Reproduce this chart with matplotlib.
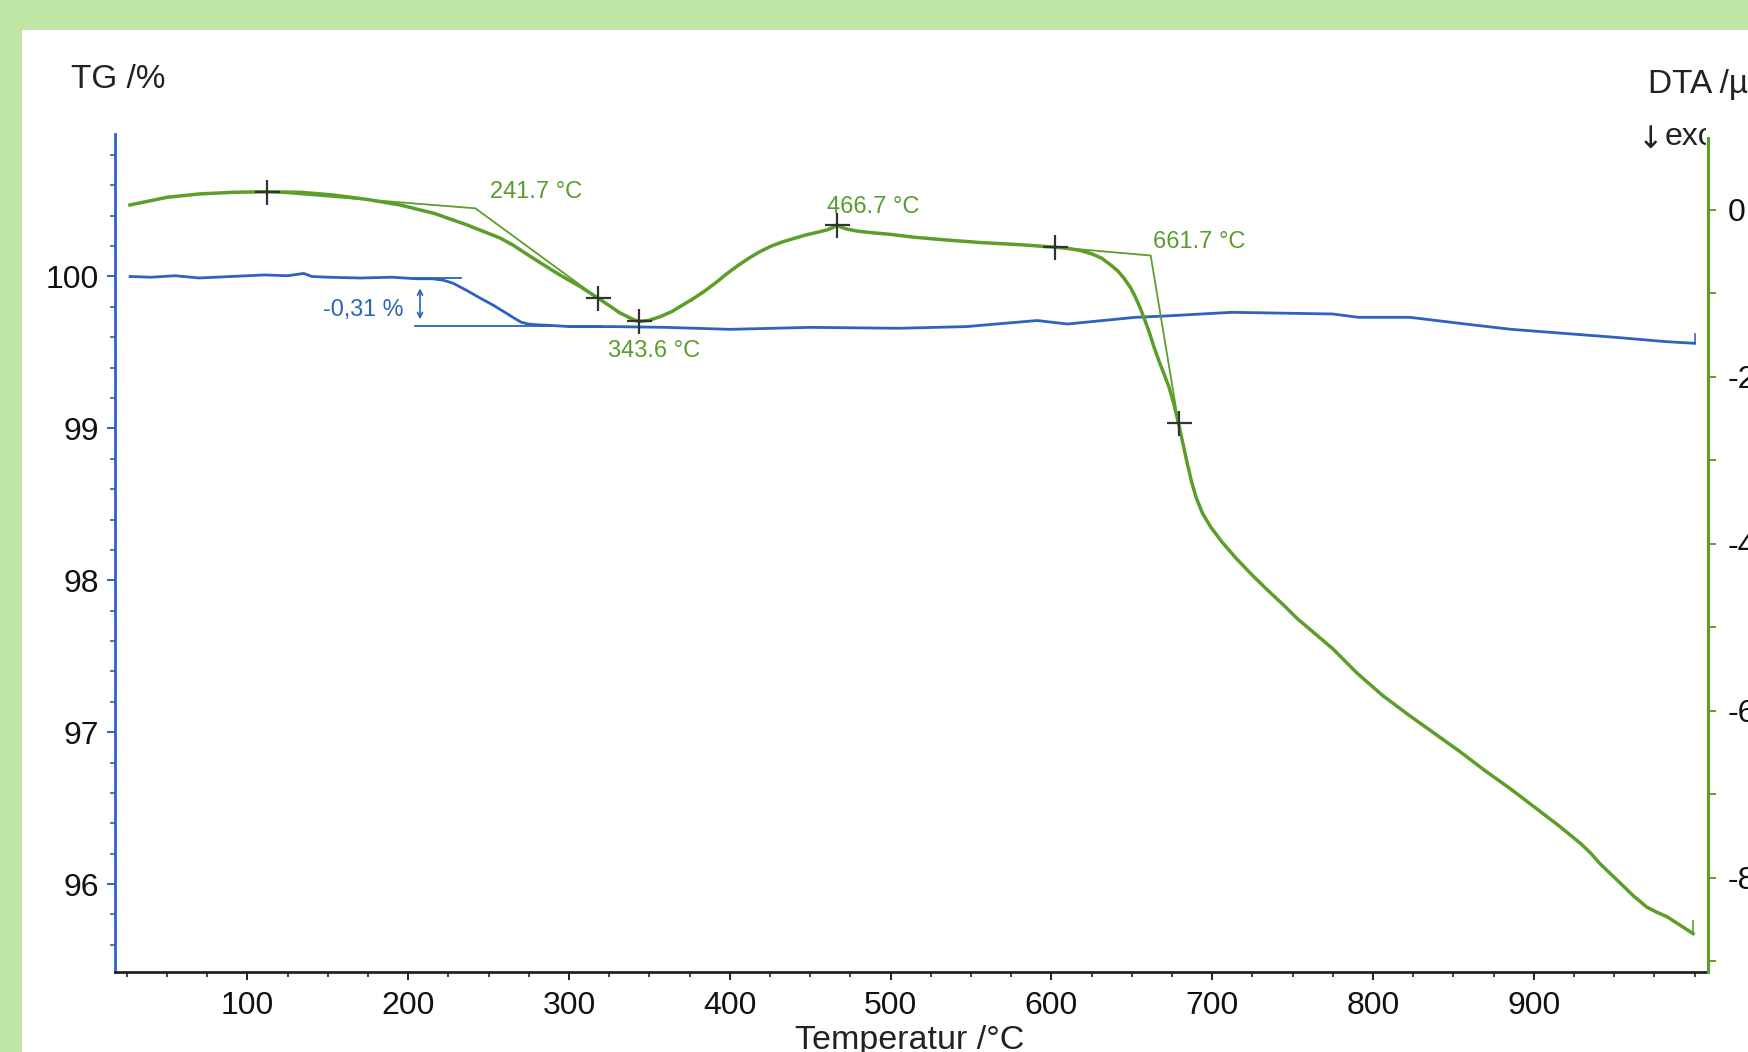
import numpy as np
import matplotlib
matplotlib.use("Agg")
import matplotlib.pyplot as plt
from matplotlib.ticker import MultipleLocator, FixedLocator
from matplotlib.patches import Rectangle
from matplotlib.transforms import Bbox, TransformedBbox

plt.rcParams['font.family'] = ['Liberation Sans', 'DejaVu Sans']

# ---------------- data ----------------
tg_temp = [27, 40, 55, 70, 90, 110, 125, 135, 140, 150, 170, 190, 205, 215, 222, 228,
           236, 245, 253, 261, 266, 270, 274, 280, 290, 300, 327, 360, 400, 450, 505,
           547, 591, 610, 652, 671, 712, 775, 791, 823, 855, 886, 918, 950, 982, 1000]
tg_value = [100.0, 99.995, 100.005, 99.99, 100.0, 100.01, 100.005, 100.02, 100.0, 99.995,
            99.99, 99.995, 99.985, 99.985, 99.975, 99.955, 99.91, 99.856, 99.81, 99.758,
            99.725, 99.70, 99.688, 99.682, 99.677, 99.67, 99.67, 99.665, 99.652, 99.665,
            99.659, 99.67, 99.71, 99.687, 99.731, 99.74, 99.764, 99.753, 99.731, 99.731,
            99.69, 99.652, 99.626, 99.60, 99.571, 99.56]

dta_temp = [26.9, 50, 70, 91, 112, 133, 153, 174, 195, 216, 236, 257, 265, 275, 286, 294,
            307, 318.2, 325, 331, 337, 341, 343.6, 350, 357, 364, 370, 377, 384, 391, 398,
            405, 412, 419, 426, 433, 440, 448, 456, 461, 464, 466.7, 469, 473, 480, 490,
            500, 514, 535, 556, 580, 602, 610, 618, 625, 631, 636, 641, 645, 649, 652,
            655, 658, 661, 664, 667, 670, 673, 676, 679, 681.5, 684, 687, 690, 694, 699,
            706, 715, 725, 734, 744, 753, 764, 775, 790, 806, 822, 838, 854, 869, 885,
            900, 915, 929, 935, 941, 948, 954, 962, 967, 970, 976, 983, 991, 999]
dta_value = [0.055, 0.147, 0.187, 0.207, 0.214, 0.207, 0.175, 0.123, 0.055, -0.045, -0.18,
             -0.34, -0.424, -0.55, -0.684, -0.78, -0.923, -1.063, -1.15, -1.23, -1.29,
             -1.325, -1.34, -1.325, -1.28, -1.22, -1.15, -1.07, -0.98, -0.88, -0.77, -0.67,
             -0.58, -0.50, -0.435, -0.385, -0.345, -0.30, -0.265, -0.24, -0.215, -0.18,
             -0.21, -0.235, -0.26, -0.28, -0.297, -0.33, -0.365, -0.395, -0.42, -0.45,
             -0.465, -0.49, -0.53, -0.58, -0.65, -0.73, -0.82, -0.93, -1.04, -1.17, -1.32,
             -1.48, -1.66, -1.82, -1.97, -2.12, -2.32, -2.56, -2.78, -3.00, -3.25, -3.45,
             -3.64, -3.80, -3.98, -4.18, -4.38, -4.55, -4.73, -4.90, -5.08, -5.26, -5.55,
             -5.82, -6.05, -6.27, -6.49, -6.71, -6.93, -7.15, -7.37, -7.59, -7.70, -7.83,
             -7.96, -8.07, -8.22, -8.30, -8.35, -8.41, -8.47, -8.57, -8.67]

# evaluation markers (temperatures) and onset analyses
marker_temp = [111.9, 318.2, 343.6, 466.7, 602.2, 679.0]
onset1 = (111.9, 241.7, 318.2, 0.015)     # baseline start, onset, inflection, onset DTA
onset2 = (602.2, 661.7, 679.0, -0.55)
peak_labels = ["241.7 °C", "343.6 °C", "466.7 °C", "661.7 °C"]
peak_label_pos = [(250.8, 0.214), (324.4, -1.69), (460.2, 0.035), (663.3, -0.394)]

step_upper = (203, 233, 99.99)
step_lower = (204, 320, 99.674)
step_label = "-0,31 %"

x_ticks = [100, 200, 300, 400, 500, 600, 700, 800, 900]
tg_ticks = [96, 97, 98, 99, 100]
dta_ticks = [-8, -6, -4, -2, 0]

# ---------------- style ----------------
W, H = 1748, 1052
BLUE = "#2d62bd"
GREEN = "#5c9e2a"
TXT_GREEN = "#5a9c2c"
FRAME = "#c0e6a6"

fig = plt.figure(figsize=(W / 100, H / 100), dpi=100)
fig.patch.set_facecolor(FRAME)

def fx(px):
    return px / W

def fy(py):
    return 1 - py / H

# white panel
fig.patches.append(Rectangle((fx(22), 0), 1 - fx(22), fy(30), transform=fig.transFigure,
                             facecolor="white", edgecolor="none", zorder=-10))

ax1 = fig.add_axes([fx(115), fy(972), fx(1708) - fx(115), fy(134) - fy(972)])
ax1.set_facecolor("none")
ax2 = ax1.twinx()
ax2.set_facecolor("none")

ax1.set_xlim(17.6, 1008.3)
ax1.set_ylim(95.421, 100.938)
ax2.set_ylim(-9.13, 0.905)

# spines
for s in ["top", "right"]:
    ax1.spines[s].set_visible(False)
for s in ["top", "left", "bottom"]:
    ax2.spines[s].set_visible(False)
ax1.spines["left"].set_color(BLUE)
ax1.spines["left"].set_linewidth(2.0)
ax1.spines["bottom"].set_color("#222222")
ax1.spines["bottom"].set_linewidth(2.0)
ax2.spines["right"].set_color(GREEN)
ax2.spines["right"].set_linewidth(2.2)
ax2.spines["right"].set_bounds(-9.13, 0.86)

# ticks
ax1.xaxis.set_major_locator(FixedLocator(x_ticks))
ax1.xaxis.set_minor_locator(MultipleLocator(25))
ax1.yaxis.set_major_locator(FixedLocator(tg_ticks))
ax1.yaxis.set_minor_locator(MultipleLocator(0.2))
ax2.yaxis.set_major_locator(FixedLocator(dta_ticks))
ax2.yaxis.set_minor_locator(MultipleLocator(1))
ax1.set_xticklabels([str(t) for t in x_ticks])
ax1.set_yticklabels([str(t) for t in tg_ticks])
ax2.set_yticklabels([str(t) for t in dta_ticks])

ax1.tick_params(axis="x", which="major", direction="out", length=6, width=1.4,
                color="#222222", labelsize=23, pad=8, labelcolor="#111111")
ax1.tick_params(axis="x", which="minor", direction="out", length=3.5, width=1.2, color="#222222")
ax1.tick_params(axis="y", which="major", direction="out", length=6, width=1.4,
                color=BLUE, labelsize=23, pad=5.5, labelcolor="#111111")
ax1.tick_params(axis="y", which="minor", direction="out", length=3.5, width=1.2, color=BLUE)
ax2.tick_params(axis="y", which="major", direction="out", length=6, width=1.4,
                color=GREEN, labelsize=23, pad=8, labelcolor="#111111")
ax2.tick_params(axis="y", which="minor", direction="out", length=6, width=1.4, color=GREEN)

# ---------------- curves ----------------
ax1.plot(tg_temp, tg_value, color=BLUE, lw=2.0, solid_joinstyle="round", zorder=3)
ax1.plot([tg_temp[-1], tg_temp[-1]], [tg_value[-1], tg_value[-1] + 0.06], color=BLUE, lw=1.2)

ax2.plot(dta_temp, dta_value, color=GREEN, lw=2.5, solid_joinstyle="round", zorder=3)
ax2.plot([dta_temp[-1], dta_temp[-1]], [dta_value[-1], dta_value[-1] + 0.15], color=GREEN, lw=1.2)

# onset tangents
for (t0, ton, t1, von) in [onset1, onset2]:
    v0 = np.interp(t0, dta_temp, dta_value)
    v1 = np.interp(t1, dta_temp, dta_value)
    ax2.plot([t0, ton, t1], [v0, von, v1], color=GREEN, lw=1.3, zorder=3)

# markers
mk_v = np.interp(marker_temp, dta_temp, dta_value)
ax2.plot(marker_temp, mk_v, linestyle="none", marker="+", ms=18, mew=1.6,
         color="#333333", zorder=4)

for lab, (t, v) in zip(peak_labels, peak_label_pos):
    ax2.text(t, v, lab, color=TXT_GREEN, fontsize=17, ha="left", va="center", zorder=5)

# mass step
ax1.plot([step_upper[0], step_upper[1]], [step_upper[2]] * 2, color=BLUE, lw=1.3, zorder=3)
ax1.plot([step_lower[0], step_lower[1]], [step_lower[2]] * 2, color=BLUE, lw=1.3, zorder=3)
ax1.annotate("", xy=(207.3, 99.718), xytext=(207.3, 99.922),
             arrowprops=dict(arrowstyle="<->", color=BLUE, lw=1.2, mutation_scale=9,
                             shrinkA=0, shrinkB=0))
ax1.text(196.9, 99.78, step_label, color=BLUE, fontsize=16.8, ha="right", va="center")

# ---------------- axis titles ----------------
fig.text(fx(71), fy(80), "TG /%", fontsize=24, ha="left", va="center", color="#222222")
fig.text(fx(1648), fy(85), "DTA /µV/mg", fontsize=24, ha="left", va="center", color="#222222")
clip = TransformedBbox(Bbox.from_extents(0, 0, fx(1706), 1), fig.transFigure)
fig.text(fx(1638), fy(139), "↓", fontsize=22, ha="left", va="center", color="#222222",
         family=["DejaVu Sans"])
t_exo = fig.text(fx(1665), fy(137), "exo", fontsize=23, ha="left", va="center", color="#222222")
t_exo.set_clip_box(clip)
t_exo.set_clip_on(True)
fig.text(fx(910), fy(1049), "Temperatur /°C", fontsize=24.5, ha="center", va="baseline",
         color="#222222")

fig.savefig("out.png", dpi=100, facecolor=fig.get_facecolor())
